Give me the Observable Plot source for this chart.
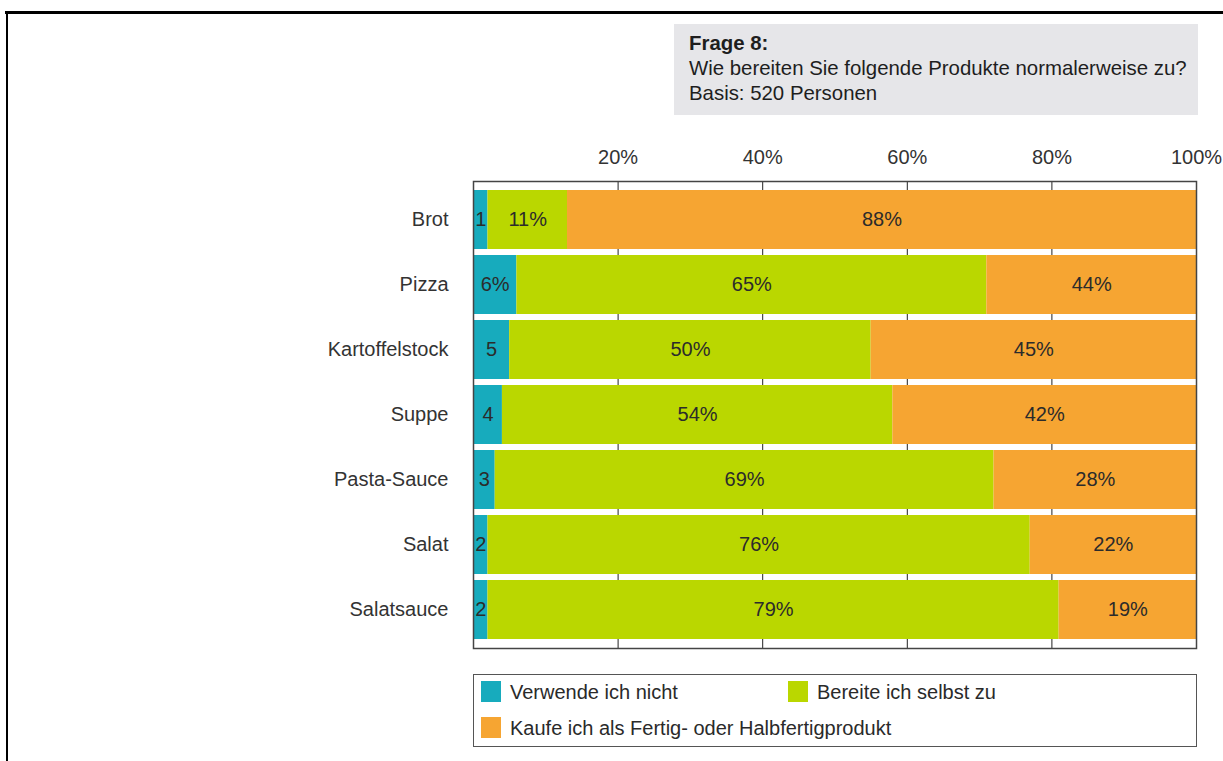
<!DOCTYPE html>
<html>
<head>
<meta charset="utf-8">
<script src="https://cdn.jsdelivr.net/npm/d3@7"></script>
<script src="https://cdn.jsdelivr.net/npm/@observablehq/plot@0.6"></script>
<style>
  html, body { margin: 0; padding: 0; background: #fff; }
  #root { position: relative; width: 1223px; height: 761px; overflow: hidden; font-family: "Liberation Sans", Arial, sans-serif; color: #222; }
  .bt { position: absolute; left: 5px; top: 11px; width: 1218px; height: 3px; background: #000; }
  .bl { position: absolute; left: 6px; top: 11px; width: 2px; height: 750px; background: #000; }
  #title { position: absolute; left: 674px; top: 24px; width: 524px; height: 91px; background: #e6e6e9; box-sizing: border-box; padding: 7px 0 0 15px; font-size: 20.4px; line-height: 25px; color: #1e1e1e; }
  #title b { font-weight: bold; }
  #chart { position: absolute; left: 0; top: 0; }
  #legend { position: absolute; left: 473px; top: 674px; width: 724px; height: 73px; box-sizing: border-box; border: 1.5px solid #555; background: #fff; font-size: 20px; color: #2a2a2a; }
  .li { position: absolute; height: 22px; line-height: 22px; white-space: nowrap; }
  .sw { display: inline-block; width: 20px; height: 21px; vertical-align: top; margin-right: 9px; }
</style>
</head>
<body>
<div id="root">
  <div class="bt"></div>
  <div class="bl"></div>
  <div id="chart"></div>
  <div id="title"><b>Frage 8:</b><br>Wie bereiten Sie folgende Produkte normalerweise zu?<br>Basis: 520 Personen</div>
  <div id="legend"></div>
</div>
<script>
const categories = ["Brot", "Pizza", "Kartoffelstock", "Suppe", "Pasta-Sauce", "Salat", "Salatsauce"];
const series = ["Verwende ich nicht", "Bereite ich selbst zu", "Kaufe ich als Fertig- oder Halbfertigprodukt"];
const colors = ["#17abbd", "#bad700", "#f6a532"];
// bar lengths as drawn (percent)
const verwendeNicht = [2, 6, 5, 4, 3, 2, 2];
const selbstZu = [11, 65, 50, 54, 69, 75, 79];
const fertigprodukt = [87, 29, 45, 42, 28, 23, 19];
// labels as printed
const labelsVerwende = ["1", "6%", "5", "4", "3", "2", "2"];
const labelsSelbst = ["11%", "65%", "50%", "54%", "69%", "76%", "79%"];
const labelsFertig = ["88%", "44%", "45%", "42%", "28%", "22%", "19%"];
const xTicks = [20, 40, 60, 80, 100];
const gridTicks = [20, 40, 60, 80];

const seriesValues = [verwendeNicht, selbstZu, fertigprodukt];
const seriesLabels = [labelsVerwende, labelsSelbst, labelsFertig];
const rows = [];
categories.forEach((c, i) => {
  series.forEach((s, j) => {
    rows.push({category: c, series: s, value: seriesValues[j][i], label: seriesLabels[j][i]});
  });
});

const chart = Plot.plot({
  width: 1223,
  height: 670,
  marginLeft: 473,
  marginRight: 27,
  marginTop: 181,
  marginBottom: 22,
  x: {domain: [0, 100], label: null},
  y: {domain: categories, paddingInner: 0.095, paddingOuter: 0.12, label: null},
  color: {domain: series, range: colors},
  style: {fontFamily: "'Liberation Sans', Arial, sans-serif", fontSize: "20px", color: "#333", background: "transparent"},
  marks: [
    Plot.gridX(gridTicks, {stroke: "#222", strokeOpacity: 1, strokeWidth: 1}),
    Plot.barX(rows, {y: "category", x: "value", fill: "series", z: "series"}),
    Plot.textX(rows, Plot.stackX({y: "category", x: "value", z: "series", text: "label", fill: "#2b2b2b", fontSize: 20})),
    Plot.frame({stroke: "#444", strokeWidth: 1.5}),
    Plot.axisX({anchor: "top", ticks: xTicks, tickSize: 0, tickPadding: 18, tickFormat: d => d + "%", fontSize: 20, fill: "#333", label: null}),
    Plot.axisY({anchor: "left", tickSize: 0, tickPadding: 25, fontSize: 20, fill: "#333", label: null})
  ]
});
document.getElementById("chart").appendChild(chart);

// legend
const legend = document.getElementById("legend");
const legendPos = [[7, 6], [314, 6], [7, 42]];
series.forEach((s, j) => {
  const d = document.createElement("div");
  d.className = "li";
  d.style.left = legendPos[j][0] + "px";
  d.style.top = legendPos[j][1] + "px";
  const sw = document.createElement("span");
  sw.className = "sw";
  sw.style.background = colors[j];
  d.appendChild(sw);
  d.appendChild(document.createTextNode(s));
  legend.appendChild(d);
});
</script>
</body>
</html>
